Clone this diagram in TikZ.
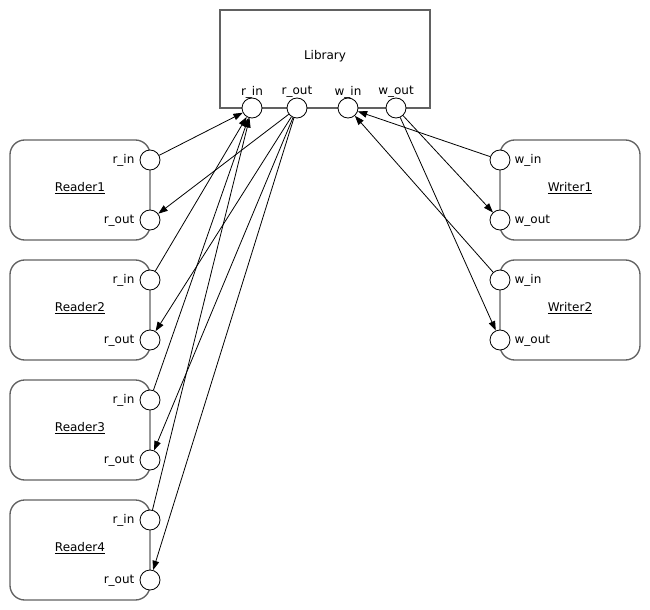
\documentclass[tikz,border=0pt]{standalone}
\usepackage{fontspec}
\setmainfont{DejaVu Sans}
\usetikzlibrary{arrows.meta}
\tikzset{
  comp/.style={draw=black!62,line width=1pt,fill=white,minimum width=105pt,minimum height=75pt,rounded corners=11pt},
  port/.style={circle,draw,fill=white,line width=.6pt,minimum size=15pt,inner sep=0pt},
  wire/.style={-{Triangle[length=7pt,width=5pt]},line width=.6pt},
  lbl/.style={font=\fontsize{9}{11}\selectfont,inner sep=1pt}
}
\begin{document}
\begin{tikzpicture}[x=.75pt,y=-.75pt]
\useasboundingbox(0,0)rectangle(650,610);
% library with its four ports
\node[comp,rounded corners=0pt,minimum width=157.5pt,minimum height=73.5pt](lib)at(325,59){};
\node[lbl]at(325,56){Library};
\foreach \p/\x/\t in {rin/252/r\_in,rout/297/r\_out,win/348/w\_in,wout/396/w\_out}{
  \node[port](lib-\p)at(\x,108){};
  \node[lbl]at(\x,92){\t};
}
% readers
\foreach \k in {1,...,4}{
  \pgfmathsetmacro\y{190+120*(\k-1)}
  \node[comp](r\k)at(80,\y){};
  \node[lbl]at(80,\y-2){\underline{Reader\k}};
  \node[port](r\k-in)at(150,\y-30){};\node[lbl,anchor=east]at(136,\y-29.5){r\_in};
  \node[port](r\k-out)at(150,\y+30){};\node[lbl,anchor=east]at(136,\y+30.5){r\_out};
}
% writers
\foreach \k in {1,2}{
  \pgfmathsetmacro\y{190+120*(\k-1)}
  \node[comp](w\k)at(570,\y){};
  \node[lbl]at(570,\y-2){\underline{Writer\k}};
  \node[port](w\k-in)at(500,\y-30){};\node[lbl,anchor=west]at(513,\y-29.5){w\_in};
  \node[port](w\k-out)at(500,\y+30){};\node[lbl,anchor=west]at(513,\y+30.5){w\_out};
}
% connections
\foreach \k in {1,...,4}{
  \draw[wire](r\k-in)--(lib-rin);
  \draw[wire](lib-rout)--(r\k-out);
}
\foreach \k in {1,2}{
  \draw[wire](w\k-in)--(lib-win);
  \draw[wire](lib-wout)--(w\k-out);
}
\end{tikzpicture}
\end{document}
